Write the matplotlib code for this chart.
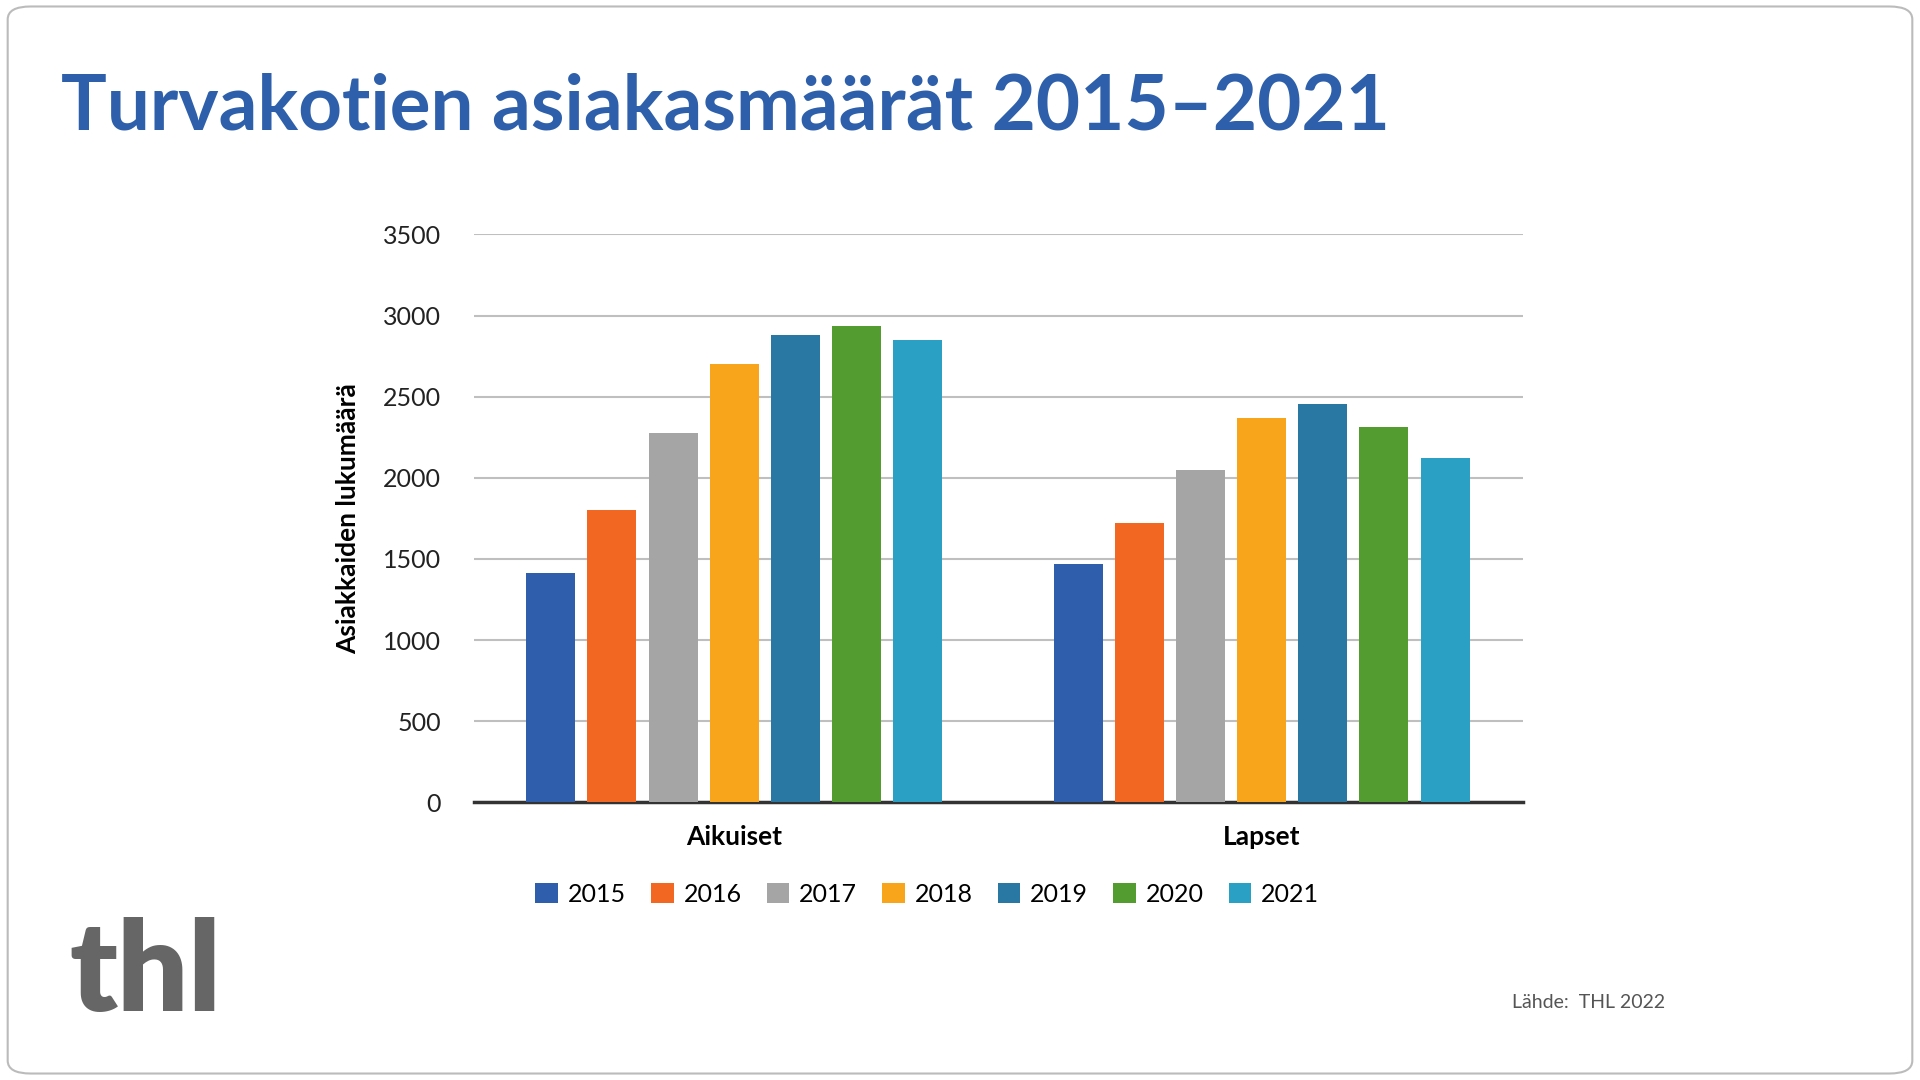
import matplotlib
matplotlib.use("Agg")
import matplotlib.pyplot as plt
from matplotlib.patches import FancyBboxPatch
import numpy as np

plt.rcParams['font.family'] = ['Lato', 'DejaVu Sans']

categories = ["Aikuiset", "Lapset"]
years = ["2015", "2016", "2017", "2018", "2019", "2020", "2021"]
values = {
    "2015": [1413, 1467],
    "2016": [1799, 1724],
    "2017": [2275, 2049],
    "2018": [2699, 2366],
    "2019": [2880, 2457],
    "2020": [2933, 2313],
    "2021": [2850, 2124],
}
colors = ["#2F5FAC", "#F26722", "#A5A5A5", "#F9A51B", "#2977A3", "#529C30", "#29A0C4"]

fig = plt.figure(figsize=(19.2, 10.8), dpi=100)
fig.patches.append(FancyBboxPatch((0.004, 0.006), 0.992, 0.988, boxstyle="round,pad=0,rounding_size=0.012",
                                  transform=fig.transFigure, fill=False, edgecolor="#BBBBBB", linewidth=1.5))
fig.text(0.032, 0.900, "Turvakotien asiakasmäärät 2015–2021", fontsize=55, fontweight='bold',
         color="#2E5FAA", va='center', ha='left')

ax = fig.add_axes([0.247, 0.257, 0.546, 0.526])
x = np.arange(len(categories))
step, width = 0.116, 0.093
for i, y in enumerate(years):
    ax.bar(x + (i - 3) * step, values[y], width, color=colors[i], label=y, zorder=3)
ax.set_xlim(-0.493, 1.495)
ax.set_ylim(0, 3500)
ax.set_yticks(range(0, 3501, 500))
ax.yaxis.grid(True, color="#BFBFBF", linewidth=1.5, zorder=0)
for s in ['top', 'right', 'left']:
    ax.spines[s].set_visible(False)
ax.spines['bottom'].set_linewidth(2.5)
ax.spines['bottom'].set_color("#333333")
ax.tick_params(axis='y', length=0, labelsize=18, pad=24, colors="#222222")
ax.tick_params(axis='x', length=0, labelsize=19, pad=16)
ax.set_xticks(x)
ax.set_xticklabels(categories, fontweight='bold')
ax.set_ylabel("Asiakkaiden lukumäärä", fontsize=19, fontweight='bold', labelpad=16)

fig.legend(loc='center', bbox_to_anchor=(0.483, 0.172), ncol=7, frameon=False, fontsize=18,
           handlelength=0.9, handleheight=0.9, handletextpad=0.4, columnspacing=1.0)

fig.text(0.036, 0.098, "thl", fontsize=90, fontweight='heavy', color="#666666", va='center', ha='left')
fig.text(0.867, 0.072, "Lähde:  THL 2022", fontsize=14, color="#555555", va='center', ha='right')

fig.savefig("out.png", dpi=100)
